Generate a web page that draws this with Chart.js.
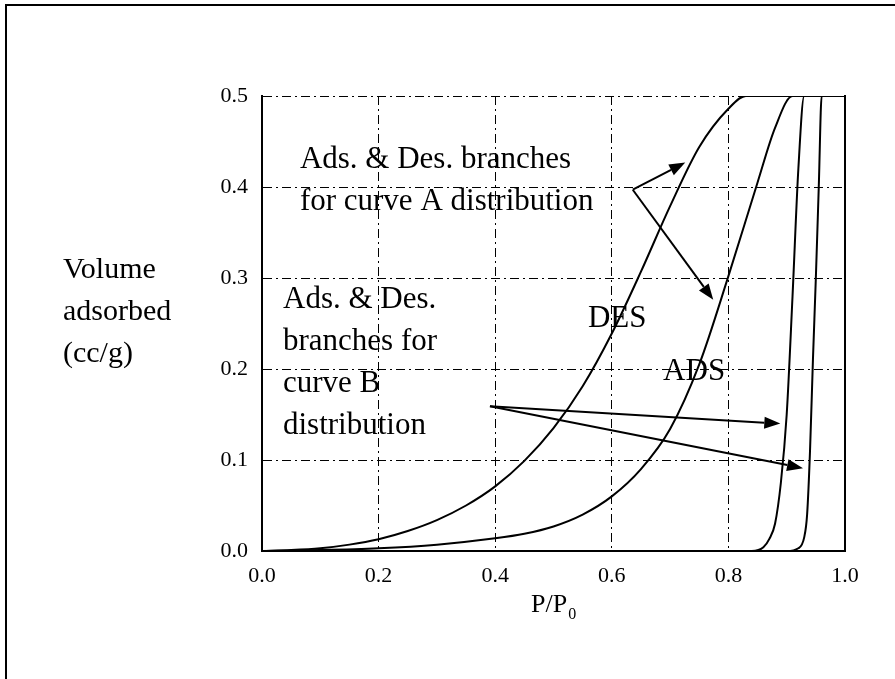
<!DOCTYPE html>
<html>
<head>
<meta charset="utf-8">
<script src="https://cdn.jsdelivr.net/npm/chart.js@4/dist/chart.umd.min.js"></script>
<style>
  html, body { margin: 0; padding: 0; background: #fff; overflow: hidden; }
  #wrap { position: relative; width: 895px; height: 679px; }
  #frame { position: absolute; left: 5px; top: 4px; width: 1000px; height: 800px;
           border-left: 2px solid #000; border-top: 2px solid #000; pointer-events: none; }
</style>
</head>
<body>
<div id="wrap">
  <canvas id="isotherm" width="895" height="679"></canvas>
  <div id="frame"></div>
</div>
<script>
// Adsorption / desorption branches for two pore size distributions

// Curve A, desorption branch
const desA_x = [0, 0.05, 0.1, 0.15, 0.2, 0.25, 0.3, 0.35, 0.4, 0.45, 0.5, 0.55, 0.6, 0.65, 0.7, 0.75, 0.8, 0.83, 1.0];
const desA_y = [0, 0.001, 0.003, 0.007, 0.013, 0.022, 0.034, 0.05, 0.071, 0.099, 0.135, 0.181, 0.239, 0.307, 0.379, 0.444, 0.486, 0.5, 0.5];

// Curve A, adsorption branch
const adsA_x = [0, 0.1, 0.2, 0.3, 0.4, 0.45, 0.5, 0.55, 0.6, 0.65, 0.7, 0.75, 0.8, 0.85, 0.88, 0.91, 1.0];
const adsA_y = [0, 0.001, 0.003, 0.007, 0.014, 0.019, 0.027, 0.04, 0.06, 0.09, 0.134, 0.205, 0.302, 0.405, 0.465, 0.5, 0.5];

// Curve B, desorption branch
const desB_x = [0, 0.84, 0.86, 0.87, 0.88, 0.89, 0.9, 0.91, 0.92, 0.93, 1.0];
const desB_y = [0, 0, 0.004, 0.013, 0.03, 0.075, 0.15, 0.28, 0.42, 0.5, 0.5];

// Curve B, adsorption branch
const adsB_x = [0, 0.9, 0.92, 0.93, 0.935, 0.94, 0.945, 0.95, 0.955, 0.96, 1.0];
const adsB_y = [0, 0, 0.003, 0.015, 0.04, 0.11, 0.21, 0.3, 0.4, 0.5, 0.5];

// Pointer arrows, start and tip in (P/P0, volume)
const arrowFrom = [[0.636, 0.397], [0.636, 0.397], [0.391, 0.159], [0.391, 0.159]];
const arrowTo   = [[0.726, 0.427], [0.774, 0.276], [0.889, 0.140], [0.928, 0.091]];

// Notes inside the plot, anchored at the first line's baseline
const noteA = ['Ads. & Des. branches', 'for curve A distribution'];
const noteB = ['Ads. & Des.', 'branches for', 'curve B', 'distribution'];
const noteAAt = [0.065, 0.421];
const noteBAt = [0.036, 0.267];
const desLabelAt = [0.559, 0.246];
const adsLabelAt = [0.688, 0.188];

const yTitle = ['Volume', 'adsorbed', '(cc/g)'];

const SERIF = "'Liberation Serif', 'Times New Roman', serif";

function toPoints(xs, ys) {
    return xs.map((x, i) => ({ x: x, y: ys[i] }));
}

function branch(xs, ys) {
    return {
        data: toPoints(xs, ys),
        showLine: true,
        borderColor: '#000',
        borderWidth: 2,
        pointRadius: 0,
        cubicInterpolationMode: 'monotone',
        fill: false
    };
}

// notes, arrows and the axis titles
const annotations = {
    id: 'annotations',
    afterDatasetsDraw(chart) {
        const ctx = chart.ctx;
        const xs = chart.scales.x, ys = chart.scales.y;
        const px = v => xs.getPixelForValue(v);
        const py = v => ys.getPixelForValue(v);

        ctx.save();
        ctx.fillStyle = '#000';
        ctx.strokeStyle = '#000';
        ctx.textBaseline = 'alphabetic';
        ctx.textAlign = 'left';

        ctx.font = '31px ' + SERIF;
        noteA.forEach((t, i) => ctx.fillText(t, px(noteAAt[0]), py(noteAAt[1]) + i * 42));
        noteB.forEach((t, i) => ctx.fillText(t, px(noteBAt[0]), py(noteBAt[1]) + i * 42));
        ctx.fillText('DES', px(desLabelAt[0]), py(desLabelAt[1]));
        ctx.fillText('ADS', px(adsLabelAt[0]), py(adsLabelAt[1]));

        // arrows
        ctx.lineWidth = 2;
        arrowFrom.forEach((a, i) => {
            const x0 = px(a[0]), y0 = py(a[1]);
            const x1 = px(arrowTo[i][0]), y1 = py(arrowTo[i][1]);
            const ang = Math.atan2(y1 - y0, x1 - x0);
            const len = 16, half = 6;
            const bx = x1 - len * Math.cos(ang), by = y1 - len * Math.sin(ang);
            ctx.beginPath();
            ctx.moveTo(x0, y0);
            ctx.lineTo(bx, by);
            ctx.stroke();
            ctx.beginPath();
            ctx.moveTo(x1, y1);
            ctx.lineTo(bx + half * Math.sin(ang), by - half * Math.cos(ang));
            ctx.lineTo(bx - half * Math.sin(ang), by + half * Math.cos(ang));
            ctx.closePath();
            ctx.fill();
        });

        // y title, horizontal on the left
        ctx.font = '30px ' + SERIF;
        yTitle.forEach((t, i) => ctx.fillText(t, 63, 278 + i * 42));

        // x title P/P0 with subscript
        ctx.font = '26px ' + SERIF;
        const main = 'P/P';
        ctx.fillText(main, 531, 612);
        const w = ctx.measureText(main).width;
        ctx.font = '16px ' + SERIF;
        ctx.fillText('0', 531 + w + 1, 619);
        ctx.restore();
    }
};

const tickFont = { family: SERIF, size: 22 };

new Chart(document.getElementById('isotherm'), {
    type: 'scatter',
    data: {
        datasets: [
            branch(desA_x, desA_y),
            branch(adsA_x, adsA_y),
            branch(desB_x, desB_y),
            branch(adsB_x, adsB_y)
        ]
    },
    options: {
        responsive: false,
        animation: false,
        layout: { padding: { top: 96, left: 0, right: 0, bottom: 0 } },
        plugins: {
            legend: { display: false },
            tooltip: { enabled: false }
        },
        scales: {
            x: {
                type: 'linear',
                min: 0,
                max: 1,
                ticks: {
                    stepSize: 0.2,
                    color: '#000',
                    font: tickFont,
                    padding: 12,
                    maxRotation: 0,
                    callback: v => v.toFixed(1)
                },
                grid: { color: '#000', lineWidth: 1, drawTicks: false },
                border: { display: true, color: '#000', width: 2, dash: [9, 4, 2, 4] },
                afterFit: s => { s.height = 128; }
            },
            y: {
                type: 'linear',
                position: 'left',
                min: 0,
                max: 0.5,
                ticks: {
                    stepSize: 0.1,
                    color: '#000',
                    font: tickFont,
                    padding: 14,
                    callback: v => v.toFixed(1)
                },
                grid: { color: '#000', lineWidth: 1, drawTicks: false },
                border: { display: true, color: '#000', width: 2, dash: [9, 4, 2, 4] },
                afterFit: s => { s.width = 262; }
            },
            y2: {
                type: 'linear',
                position: 'right',
                min: 0,
                max: 0.5,
                ticks: { display: false },
                grid: { display: false, drawTicks: false },
                border: { display: true, color: '#000', width: 2 },
                afterFit: s => { s.width = 50; }
            }
        }
    },
    plugins: [annotations]
});
</script>
</body>
</html>
